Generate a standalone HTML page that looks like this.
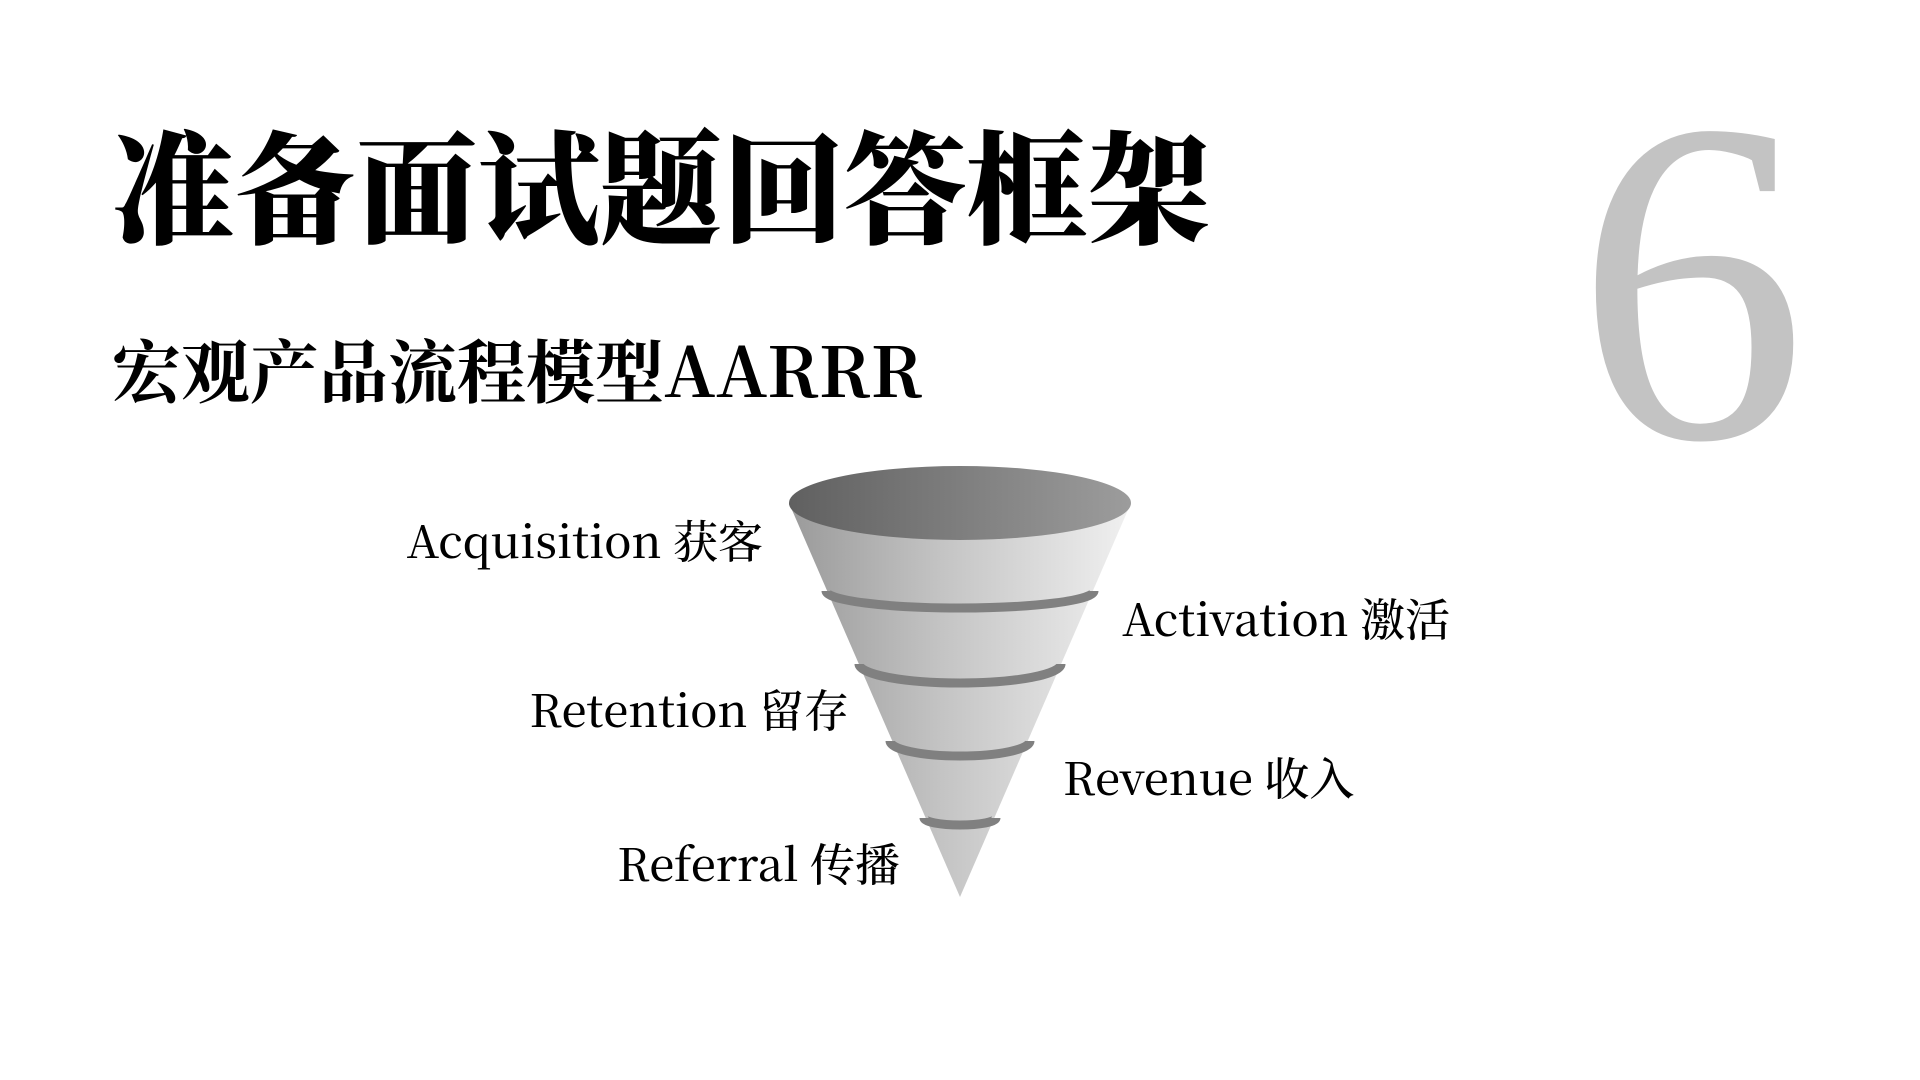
<!DOCTYPE html>
<html><head><meta charset="utf-8"><style>
html,body{margin:0;padding:0;background:#fff;width:1920px;height:1080px;overflow:hidden}
svg{display:block}
</style></head><body>
<svg width="1920" height="1080" viewBox="0 0 1920 1080" xmlns="http://www.w3.org/2000/svg">
<defs>
<linearGradient id="body" x1="789" y1="0" x2="1130" y2="0" gradientUnits="userSpaceOnUse">
<stop offset="0" stop-color="#9a9a9a"/><stop offset="0.45" stop-color="#c4c4c4"/><stop offset="1" stop-color="#f0f0f0"/>
</linearGradient>
<linearGradient id="top" x1="789" y1="0" x2="1130" y2="0" gradientUnits="userSpaceOnUse">
<stop offset="0" stop-color="#606060"/><stop offset="1" stop-color="#9c9c9c"/>
</linearGradient>
</defs>
<text x="112" y="234" font-family="'Noto Serif CJK SC',serif" font-weight="900" font-size="122" fill="#000">准备面试题回答框架</text>
<text x="112" y="397" font-family="'Noto Serif CJK SC',serif" font-weight="bold" font-size="69" fill="#000">宏观产品流程模型AARRR</text>
<text x="1576" y="437" font-family="'Liberation Serif',serif" font-size="462" fill="#c3c3c3">6</text>

<path d="M789,503 L960,897 L1131,503 Z" fill="url(#body)"/>
<path d="M789,503 A171,37 0 0 0 1131,503" fill="url(#body)"/>
<ellipse cx="960" cy="503" rx="171" ry="37" fill="url(#top)"/>
<g fill="none" stroke="#808080" stroke-width="9">
<path d="M826,591 A134,17 0 0 0 1094,591"/>
<path d="M859,664 A101,19 0 0 0 1061,664"/>
<path d="M890,741 A70,15 0 0 0 1030,741"/>
<path d="M924,818 A36,7 0 0 0 996,818"/>
</g>

<g font-family="'Noto Serif CJK SC',serif" font-size="45" font-weight="500" fill="#000">
<text x="763" y="558" text-anchor="end">Acquisition 获客</text>
<text x="1122" y="636">Activation 激活</text>
<text x="849" y="727" text-anchor="end">Retention 留存</text>
<text x="1063" y="795">Revenue 收入</text>
<text x="900" y="881" text-anchor="end">Referral 传播</text>
</g>
</svg>
</body></html>
